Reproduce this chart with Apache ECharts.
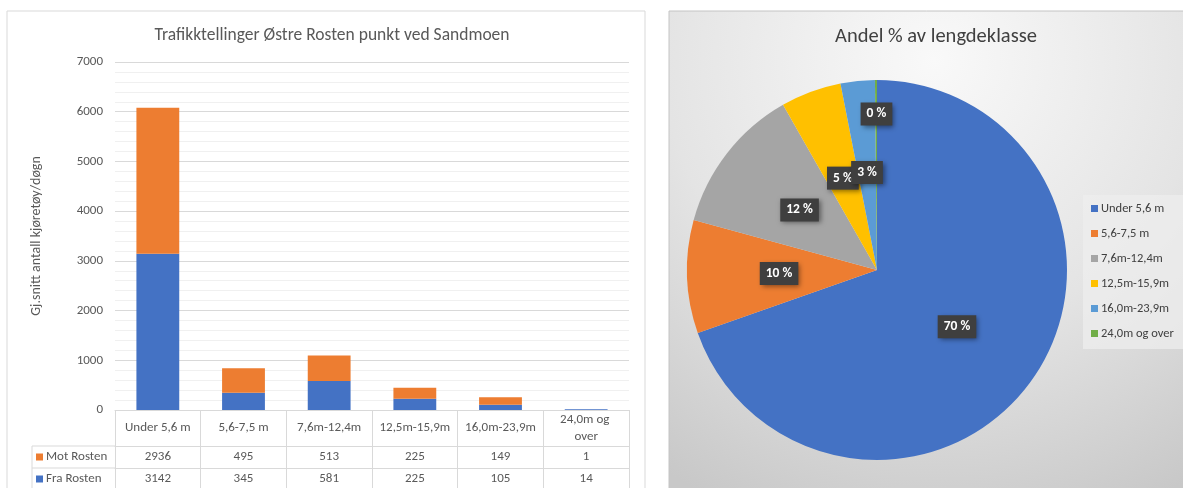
<!DOCTYPE html>
<html>
<head>
<meta charset="utf-8">
<title>Trafikktellinger Østre Rosten</title>
<script src="https://cdn.jsdelivr.net/npm/echarts@6/dist/echarts.min.js"></script>
<style>
    html, body { margin: 0; padding: 0; background: #fff; }
    #chartMain { width: 1183px; height: 488px; }
</style>
</head>
<body>
<div id="chartMain"></div>
<script>
// lengdeklasser (kategorier)
var categories = ['Under 5,6 m', '5,6-7,5 m', '7,6m-12,4m', '12,5m-15,9m', '16,0m-23,9m', '24,0m og over'];
// gj.snitt per døgn, hver retning
var motRosten = [2936, 495, 513, 225, 149, 1];
var fraRosten = [3142, 345, 581, 225, 105, 14];
// y-akse
var yMin = 0, yMax = 7000, yStep = 1000;

var barColors = { mot: '#ED7D31', fra: '#4472C4' };
var pieColors = ['#4472C4', '#ED7D31', '#A5A5A5', '#FFC000', '#5B9BD5', '#70AD47'];
var fontFam = 'Calibri, Carlito, Lato, sans-serif';
var tableLine = '#d9d9d9';

var TrafikkChart = {
    init: function () {
        var chart = echarts.init(document.getElementById('chartMain'));
        chart.setOption(TrafikkChart.buildOption());
        return chart;
    },
    // sum begge retninger -> andel per lengdeklasse
    pieData: function () {
        var data = [];
        for (var i = 0; i < categories.length; i++) {
            data.push({ name: categories[i], value: motRosten[i] + fraRosten[i] });
        }
        return data;
    },
    buildOption: function () {
        return {
            animation: false,
            textStyle: { fontFamily: fontFam },
            // bakgrunn / rammer / tabell-linjer i venstre kolonne
            graphic: [
                {
                    type: 'rect', z: -10, silent: true,
                    shape: { x: 7, y: 11, width: 638, height: 490 },
                    style: { fill: '#fff', stroke: '#d9d9d9', lineWidth: 1 }
                },
                {
                    type: 'rect', z: -10, silent: true,
                    shape: { x: 669, y: 11, width: 530, height: 490 },
                    style: {
                        fill: {
                            type: 'radial', x: 0.5, y: 0.1, r: 1,
                            colorStops: [
                                { offset: 0, color: '#f9f9f9' },
                                { offset: 0.55, color: '#e4e4e4' },
                                { offset: 1, color: '#c8c8c8' }
                            ]
                        },
                        stroke: '#c4c4c4', lineWidth: 1
                    }
                },
                { type: 'line', silent: true, shape: { x1: 32, y1: 446, x2: 115, y2: 446 }, style: { stroke: tableLine } },
                { type: 'line', silent: true, shape: { x1: 32, y1: 468, x2: 115, y2: 468 }, style: { stroke: tableLine } },
                { type: 'line', silent: true, shape: { x1: 32, y1: 446, x2: 32, y2: 490 }, style: { stroke: tableLine } }
            ],
            title: [
                {
                    text: 'Trafikktellinger Østre Rosten punkt ved Sandmoen',
                    left: 327, top: 22, textAlign: 'center',
                    textStyle: { fontSize: 17.5, fontWeight: 'normal', color: '#595959', fontFamily: fontFam }
                },
                {
                    text: 'Andel % av lengdeklasse',
                    left: 931, top: 21, textAlign: 'center',
                    textStyle: { fontSize: 20.5, fontWeight: 'normal', color: '#404040', fontFamily: fontFam }
                }
            ],
            legend: [
                {
                    data: ['Mot Rosten', 'Fra Rosten'],
                    orient: 'vertical', left: 36, top: 450, padding: 0,
                    itemGap: 8, itemWidth: 7, itemHeight: 7, icon: 'rect',
                    selectedMode: false,
                    textStyle: { fontSize: 13, lineHeight: 14, color: '#595959', padding: [0, 0, 0, -2] }
                },
                {
                    data: categories,
                    orient: 'vertical', left: 1083, top: 195,
                    padding: [6, 10, 8, 8], itemGap: 10,
                    itemWidth: 7, itemHeight: 7, icon: 'rect',
                    backgroundColor: 'rgba(238,238,238,0.75)',
                    selectedMode: false,
                    textStyle: { fontSize: 12.5, lineHeight: 15, color: '#404040', padding: [0, 0, 0, -2] }
                }
            ],
            grid: { left: 115, right: 554, top: 62, bottom: 78 },
            xAxis: [
                // rad 1: kategorier, tick = tabellens loddrette linjer
                {
                    type: 'category', data: categories, position: 'bottom',
                    axisLine: { lineStyle: { color: tableLine } },
                    axisTick: { show: true, length: 80, lineStyle: { color: tableLine } },
                    axisLabel: {
                        interval: 0, margin: 18, verticalAlign: 'middle',
                        width: 72, overflow: 'break', lineHeight: 17,
                        fontSize: 13, color: '#595959'
                    }
                },
                // rad 2: Mot Rosten
                {
                    type: 'category', data: categories, position: 'bottom', offset: 36,
                    axisLine: { lineStyle: { color: tableLine } },
                    axisTick: { show: false },
                    axisLabel: {
                        interval: 0, margin: 11, verticalAlign: 'middle',
                        fontSize: 13, color: '#595959',
                        formatter: function (v, i) { return String(motRosten[i]); }
                    }
                },
                // rad 3: Fra Rosten
                {
                    type: 'category', data: categories, position: 'bottom', offset: 58,
                    axisLine: { lineStyle: { color: tableLine } },
                    axisTick: { show: false },
                    axisLabel: {
                        interval: 0, margin: 11, verticalAlign: 'middle',
                        fontSize: 13, color: '#595959',
                        formatter: function (v, i) { return String(fraRosten[i]); }
                    }
                }
            ],
            yAxis: {
                type: 'value', min: yMin, max: yMax, interval: yStep,
                name: 'Gj.snitt antall kjøretøy/døgn',
                nameLocation: 'middle', nameGap: 72,
                nameTextStyle: { fontSize: 14, color: '#595959' },
                axisLine: { show: false },
                axisTick: { show: false },
                axisLabel: {
                    fontSize: 13, color: '#595959', margin: 12,
                    formatter: function (v) { return String(v); }
                },
                splitLine: { lineStyle: { color: '#d9d9d9' } },
                minorTick: { show: false, splitNumber: 5 },
                minorSplitLine: { show: true, lineStyle: { color: '#f0f0f0' } }
            },
            series: [
                {
                    name: 'Fra Rosten', type: 'bar', stack: 'tot',
                    xAxisIndex: 0, barWidth: '50%',
                    itemStyle: { color: barColors.fra },
                    data: fraRosten
                },
                {
                    name: 'Mot Rosten', type: 'bar', stack: 'tot',
                    xAxisIndex: 0, barWidth: '50%',
                    itemStyle: { color: barColors.mot },
                    data: motRosten
                },
                {
                    name: 'Andel', type: 'pie',
                    center: [877, 270], radius: 190,
                    startAngle: 90, clockwise: true,
                    percentPrecision: 0,
                    color: pieColors,
                    itemStyle: { borderWidth: 0 },
                    label: {
                        show: true, position: 'inside',
                        formatter: '{d} %',
                        color: '#fff', fontWeight: 'bold', fontSize: 13.5,
                        backgroundColor: '#3f3f3f',
                        padding: [5, 6, 4, 6],
                        shadowColor: 'rgba(0,0,0,0.45)', shadowBlur: 5,
                        shadowOffsetX: 2, shadowOffsetY: 2
                    },
                    // 0 % flyttes opp som i Excel
                    labelLayout: function (params) {
                        if (params.dataIndex === categories.length - 1) {
                            return { dy: -58 };
                        }
                    },
                    emphasis: { disabled: true },
                    data: TrafikkChart.pieData()
                }
            ]
        };
    }
};

TrafikkChart.init();
</script>
</body>
</html>
